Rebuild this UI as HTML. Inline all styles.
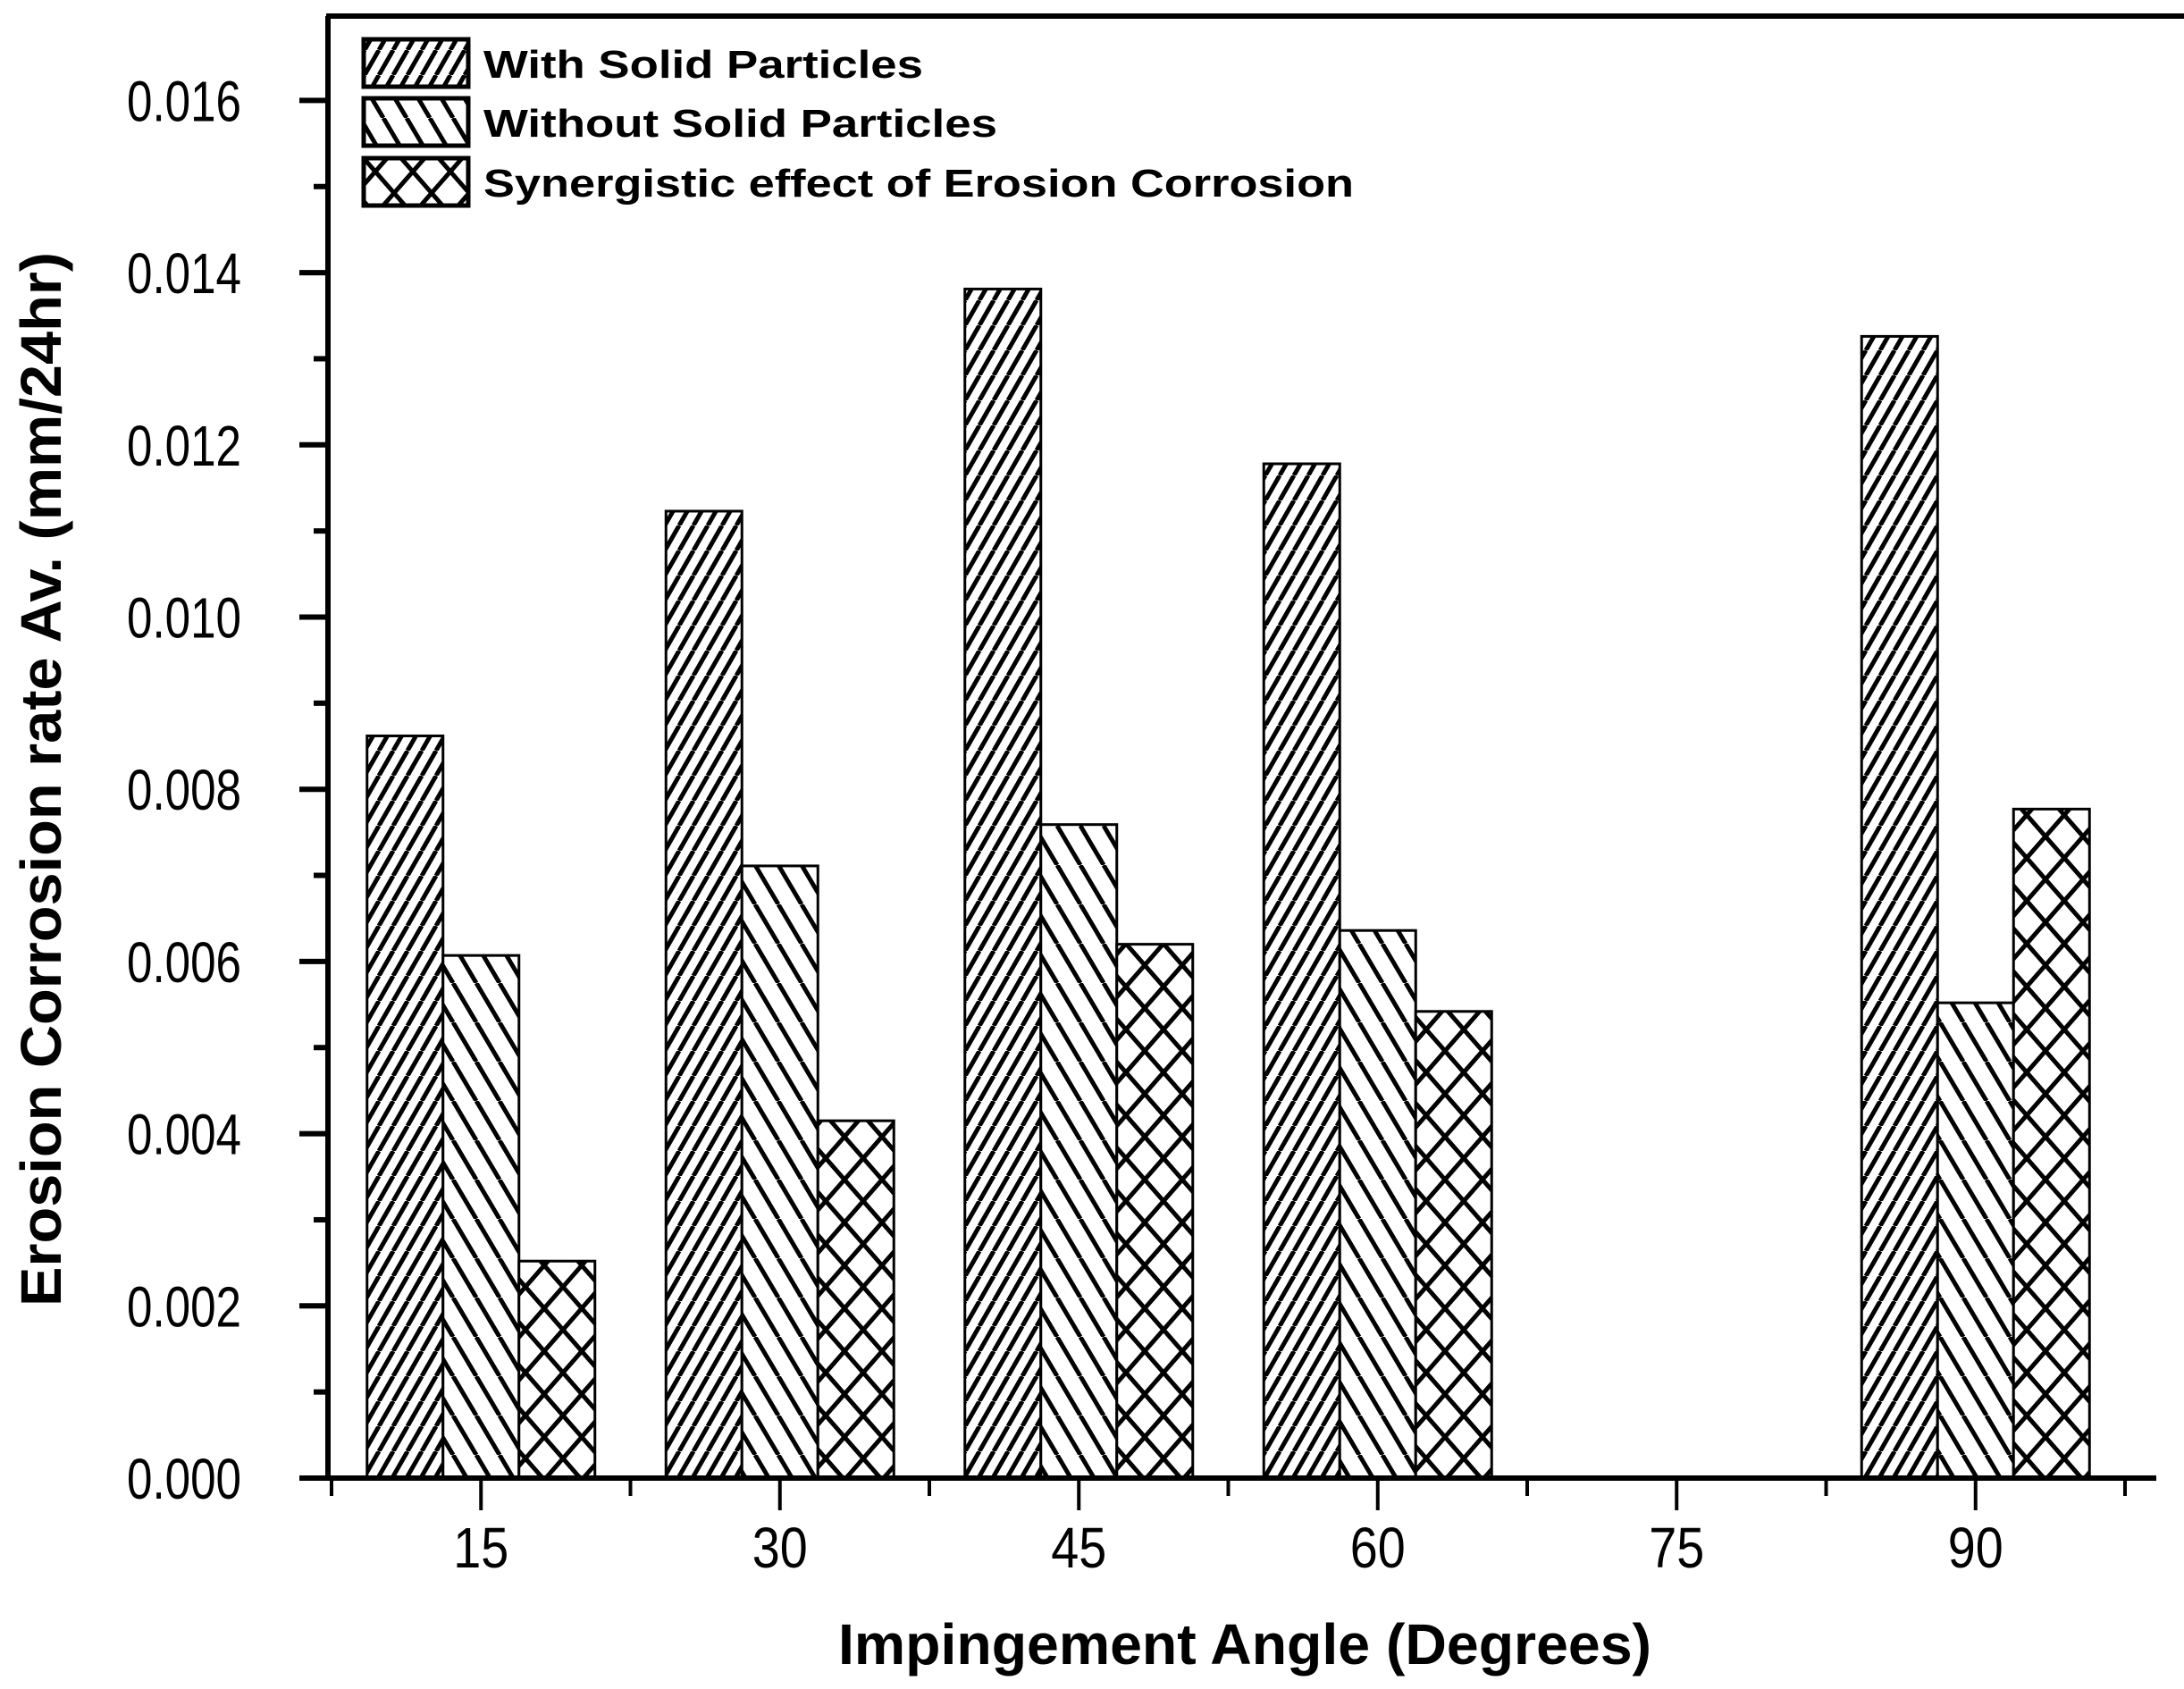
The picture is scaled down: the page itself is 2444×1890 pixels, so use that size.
<!DOCTYPE html>
<html><head><meta charset="utf-8"><style>
html,body{margin:0;padding:0;background:#fff;}
svg{display:block;}
text{font-family:"Liberation Sans",sans-serif;fill:#000;}
</style></head><body>
<svg id="chart" width="2444" height="1890" viewBox="0 0 2444 1890" xmlns="http://www.w3.org/2000/svg">
<defs>
<pattern id="pWith" patternUnits="userSpaceOnUse" width="16" height="28">
<rect width="16" height="28" fill="#fff"/>
<path d="M-8,28 L8,0 M8,28 L24,0" stroke="#000" stroke-width="5"/>
</pattern>
<pattern id="pWithout" patternUnits="userSpaceOnUse" width="26" height="44">
<rect width="26" height="44" fill="#fff"/>
<path d="M-13,0 L13,44 M13,0 L39,44" stroke="#000" stroke-width="5"/>
</pattern>
<pattern id="pCross" patternUnits="userSpaceOnUse" width="42" height="48">
<rect width="42" height="48" fill="#fff"/>
<path d="M0,0 L42,48 M42,0 L0,48" stroke="#000" stroke-width="5"/>
</pattern>
</defs>
<g id="plot"></g>
</svg>
<script>
const categories = [15, 30, 45, 60, 75, 90];
const withSolid = [0.00862, 0.01123, 0.01381, 0.01178, null, 0.01326];
const withoutSolid = [0.00607, 0.00711, 0.00759, 0.00636, null, 0.00552];
const synergistic = [0.00252, 0.00415, 0.0062, 0.00542, null, 0.00777];
const yTicks = [0, 0.002, 0.004, 0.006, 0.008, 0.010, 0.012, 0.014, 0.016];
const yTickLabels = ["0.000","0.002","0.004","0.006","0.008","0.010","0.012","0.014","0.016"];
const xTickLabels = ["15","30","45","60","75","90"];
const seriesNames = ["With Solid Particles","Without Solid Particles","Synergistic effect of Erosion Corrosion"];

const NS = "http://www.w3.org/2000/svg";
const g = document.getElementById('plot');
const X0 = 367, Y0 = 1654, XEND = 2413, TOP = 18;
const xScale = v => X0 + 4 + (v - 7.5) / 15 * 334.5;
const yScale = v => Y0 - v / 0.002 * 192.7;
const barW = 85;

function mk(tag, attrs, parent) {
  const e = document.createElementNS(NS, tag);
  for (const k in attrs) e.setAttribute(k, attrs[k]);
  (parent || g).appendChild(e);
  return e;
}

const series = [withSolid, withoutSolid, synergistic];
const fills = ["url(#pWith)", "url(#pWithout)", "url(#pCross)"];
const keys = ["with-solid", "without-solid", "synergistic"];
series.forEach((arr, s) => {
  arr.forEach((v, i) => {
    if (v === null) return;
    const cx = xScale(categories[i]);
    const x = cx - 1.5 * barW + s * barW;
    const y = yScale(v);
    const r = mk('rect', {x: x, y: y, width: barW, height: Y0 - y, fill: fills[s], stroke: '#000', 'stroke-width': 3});
    
    
  });
});

const ax = mk('path', {d: `M${X0},${Y0} L${XEND},${Y0} M${X0},${Y0} L${X0},${TOP} M${X0 - 2},${TOP} L2444,${TOP}`, stroke: '#000', 'stroke-width': 6, fill: 'none'});



yTicks.forEach((v, i) => {
  const y = yScale(v);
  const t = mk('line', {x1: X0 - 32, x2: X0, y1: y, y2: y, stroke: '#000', 'stroke-width': 6});
  
  
  if (i < yTicks.length - 1) {
    const ym = yScale(v + 0.001);
    const m = mk('line', {x1: X0 - 16, x2: X0, y1: ym, y2: ym, stroke: '#000', 'stroke-width': 6});
    
    
  }
  const lb = mk('text', {x: 270, y: y + 23, 'font-size': 64, 'text-anchor': 'end', textLength: 128, lengthAdjust: 'spacingAndGlyphs'});
  lb.textContent = yTickLabels[i];
  
  
});

categories.forEach((c, i) => {
  const x = xScale(c);
  const t = mk('line', {x1: x, x2: x, y1: Y0, y2: Y0 + 36, stroke: '#000', 'stroke-width': 4});
  
  
  const lb = mk('text', {x: x, y: Y0 + 100, 'font-size': 64, 'text-anchor': 'middle', textLength: 62, lengthAdjust: 'spacingAndGlyphs'});
  lb.textContent = xTickLabels[i];
  
  
});
for (let k = 0; k <= categories.length; k++) {
  const x = xScale(7.5 + 15 * k);
  const m = mk('line', {x1: x, x2: x, y1: Y0, y2: Y0 + 20, stroke: '#000', 'stroke-width': 4});
  
  
}

const xt = mk('text', {x: 1393, y: 1862, 'font-size': 64, 'font-weight': 'bold', 'text-anchor': 'middle', textLength: 910, lengthAdjust: 'spacingAndGlyphs'});
xt.textContent = 'Impingement Angle (Degrees)';


const yt = mk('text', {x: 0, y: 0, 'font-size': 64, 'font-weight': 'bold', 'text-anchor': 'middle', textLength: 1180, lengthAdjust: 'spacingAndGlyphs', transform: 'translate(68,872) rotate(-90)'});
yt.textContent = 'Erosion Corrosion rate Av. (mm/24hr)';



const legY = [44, 110, 177];
const legLen = [492, 575, 974];
seriesNames.forEach((n, s) => {
  const r = mk('rect', {x: 407, y: legY[s], width: 117, height: 53, fill: fills[s], stroke: '#000', 'stroke-width': 5});
  
  
  const t = mk('text', {x: 541, y: legY[s] + 43, 'font-size': 44, 'font-weight': 'bold', textLength: legLen[s], lengthAdjust: 'spacingAndGlyphs'});
  t.textContent = n;
  
  
});
</script>
</body></html>
